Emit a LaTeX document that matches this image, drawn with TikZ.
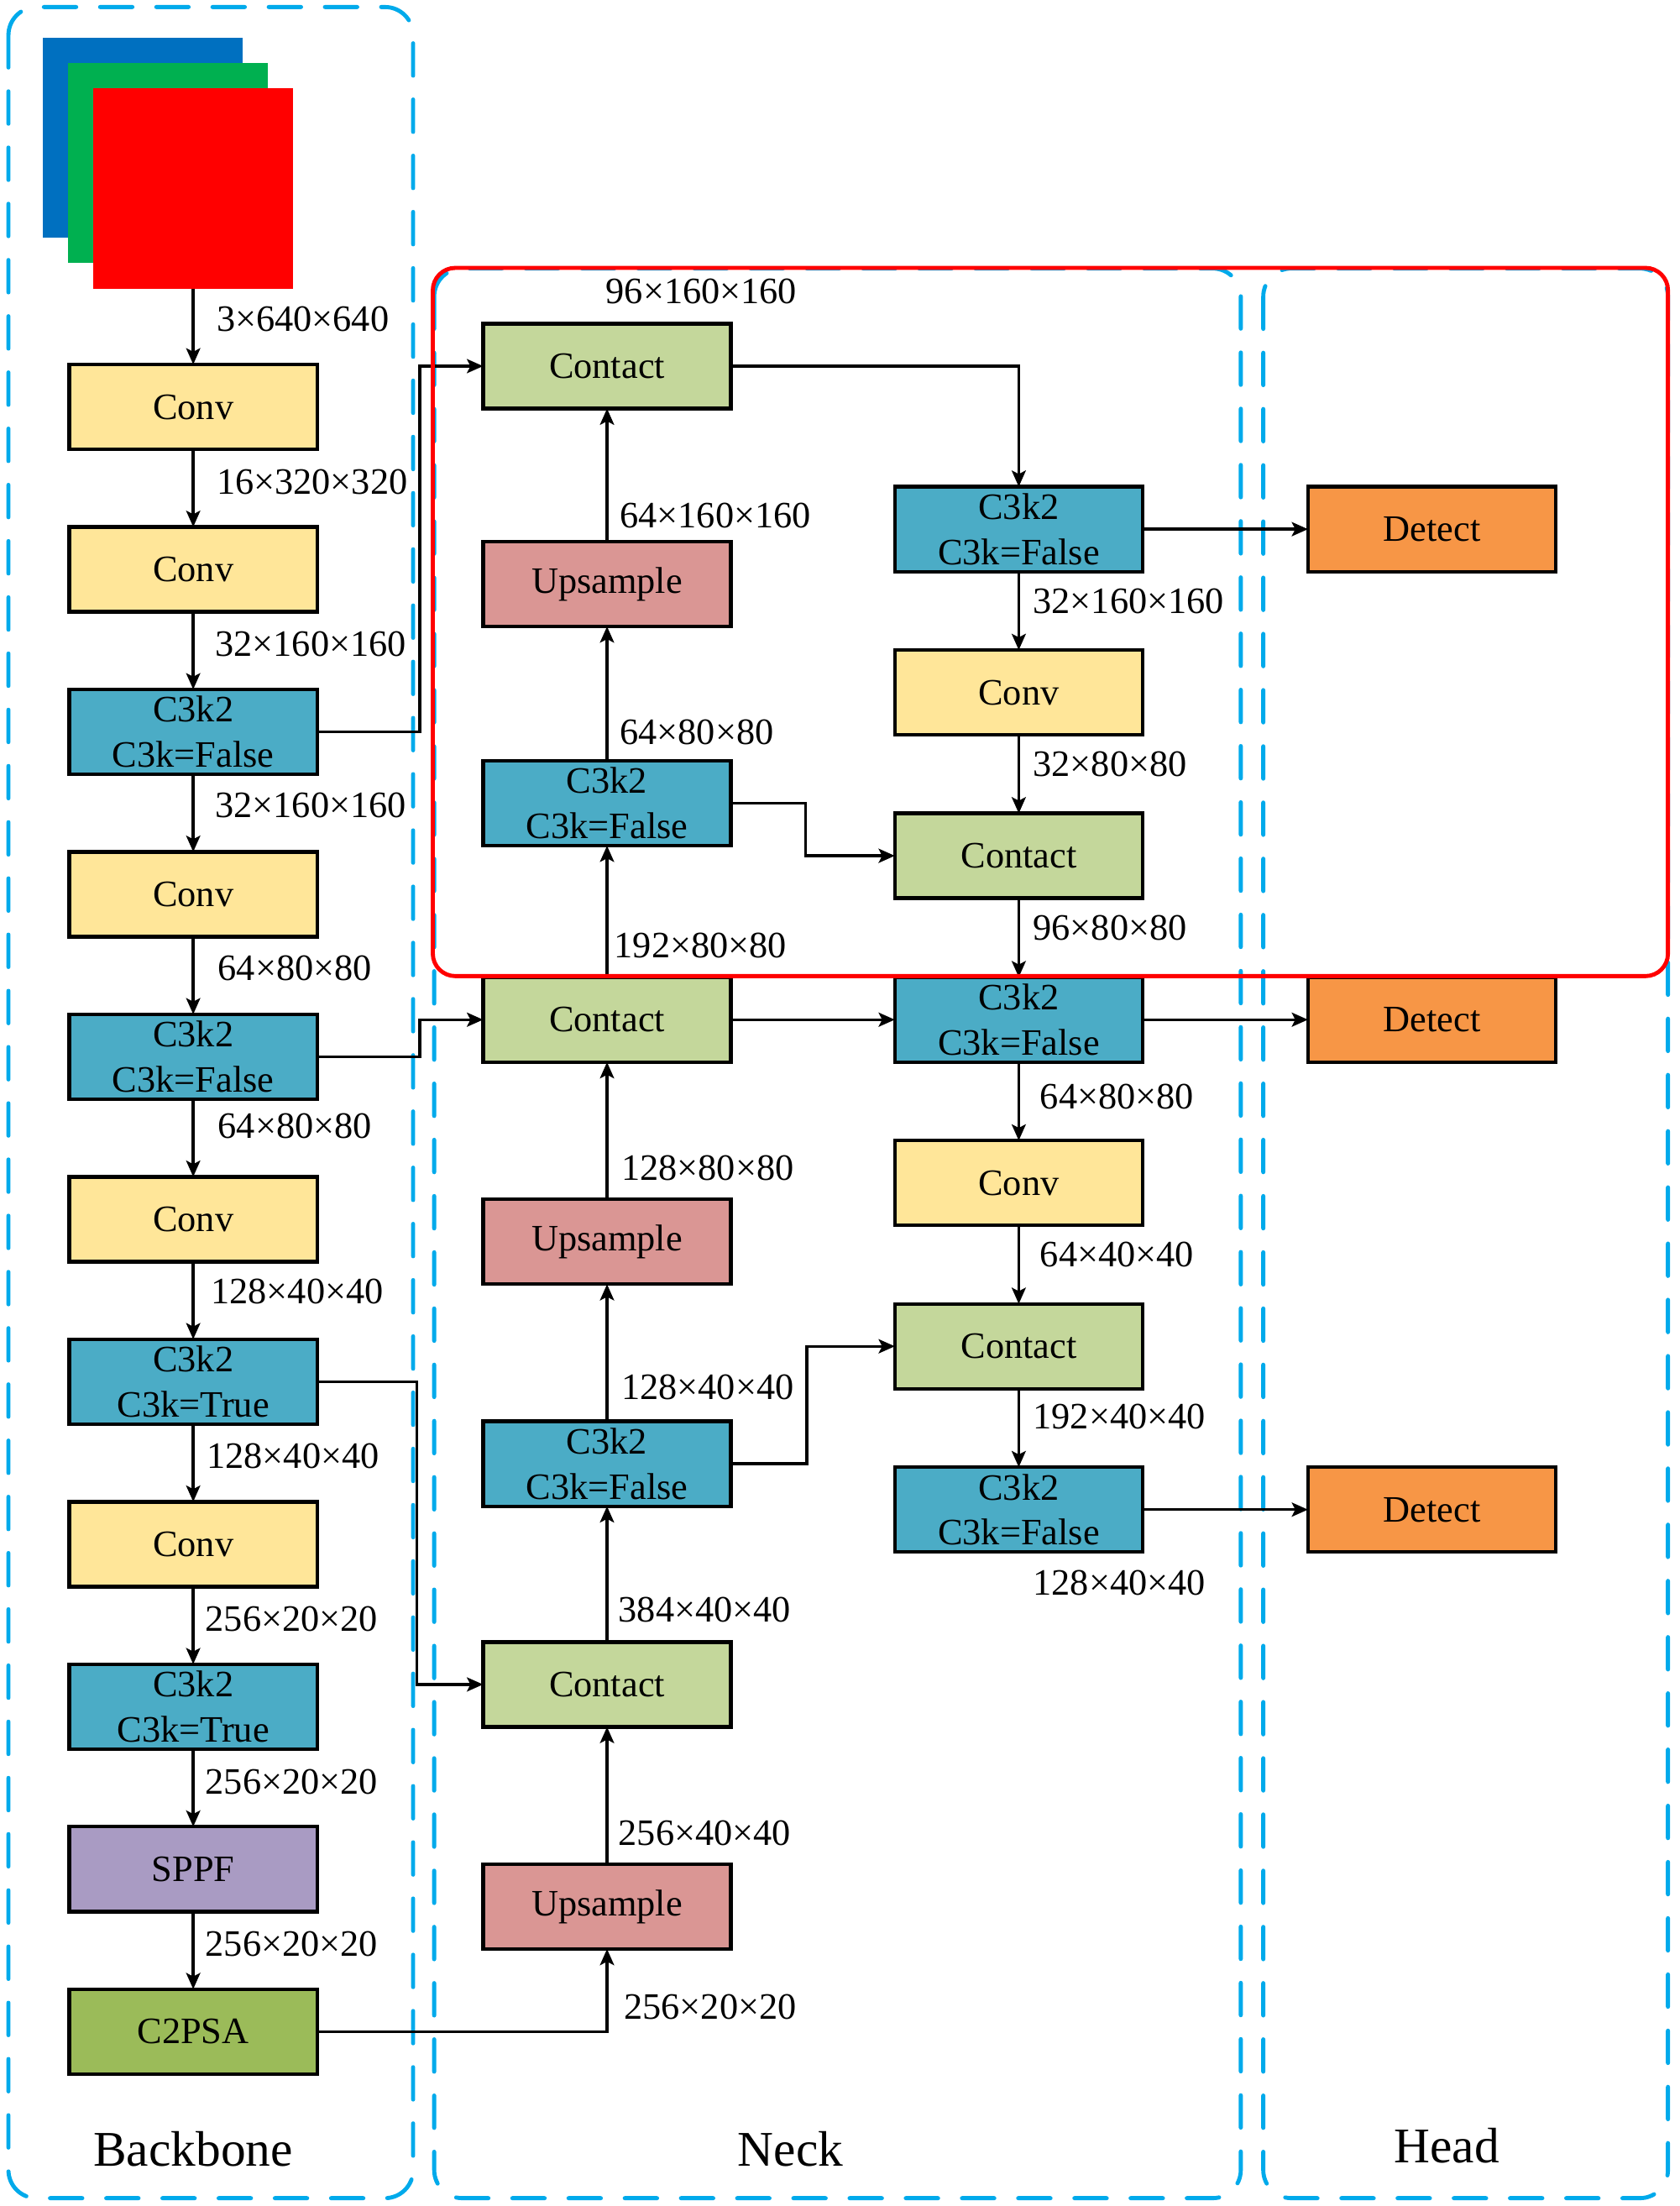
\documentclass[tikz,border=0pt]{standalone}
\usepackage{fontspec}
\setmainfont{Liberation Serif}
\usetikzlibrary{arrows.meta,positioning}
\definecolor{convc}{HTML}{FFE699}
\definecolor{c3kc}{HTML}{4BACC6}
\definecolor{catc}{HTML}{C4D79B}
\definecolor{upc}{HTML}{DA9694}
\definecolor{detc}{HTML}{F79646}
\definecolor{sppfc}{HTML}{A99BC3}
\definecolor{c2psac}{HTML}{9BBB59}
\definecolor{framec}{HTML}{00AAEB}
\definecolor{imgb}{HTML}{0070C0}
\definecolor{imgg}{HTML}{00B050}
\definecolor{imgr}{HTML}{FF0000}

\begin{document}
\begin{tikzpicture}[x=1pt,y=-1pt,node distance=55.2pt,
    blk/.style={draw,line width=2.6pt,minimum width=176.4pt,minimum height=60.4pt,
        inner sep=0pt,outer sep=0pt,align=center,font=\fontsize{26.5}{32}\selectfont},
    convbox/.style={blk,fill=convc},
    c3kbox/.style={blk,fill=c3kc},
    catbox/.style={blk,fill=catc},
    upbox/.style={blk,fill=upc},
    detbox/.style={blk,fill=detc},
    dimlabel/.style={anchor=west,inner sep=0pt,font=\fontsize{26.5}{32}\selectfont},
    title/.style={anchor=base,inner sep=0pt,font=\fontsize{35.5}{40}\selectfont},
    arr/.style={-{Stealth[length=11.5pt,width=10pt,inset=2.5pt]},line width=2pt},
    framebox/.style={draw=framec,line width=2.9pt,dash pattern=on 23pt off 17pt,
        line cap=round,rounded corners=20pt},
    sq/.style={minimum size=142.6pt,inner sep=0pt,outer sep=0pt}]
    \useasboundingbox (0,0) rectangle (1195,1569.6);

    % dashed parts
    \draw[framebox] (6,5) rectangle (294,1564);
    \draw[framebox] (309,191) rectangle (883,1564);
    \draw[framebox] (899,191) rectangle (1187,1564);

    % input image
    \node[sq,fill=imgb] (img1) at (101.5,98) {};
    \node[sq,fill=imgg] (img2) at (119.5,116) {};
    \node[sq,fill=imgr] (img3) at (137.5,134) {};

    % backbone
    \node[convbox] (conv1) at (137.5,289.5) {Conv};
    \node[convbox,below=of conv1] (conv2) {Conv};
    \node[c3kbox,below=of conv2] (c3k1) {C3k2\\C3k=False};
    \node[convbox,below=of c3k1] (conv3) {Conv};
    \node[c3kbox,below=of conv3] (c3k2) {C3k2\\C3k=False};
    \node[convbox,below=of c3k2] (conv4) {Conv};
    \node[c3kbox,below=of conv4] (c3k3) {C3k2\\C3k=True};
    \node[convbox,below=of c3k3] (conv5) {Conv};
    \node[c3kbox,below=of conv5] (c3k4) {C3k2\\C3k=True};
    \node[blk,fill=sppfc,below=of c3k4] (sppf) {SPPF};
    \node[blk,fill=c2psac,below=of sppf] (c2psa) {C2PSA};

    % neck, up path
    \node[catbox] (cat1) at (432,260.5) {Contact};
    \node[upbox] (up1) at (432,415.5) {Upsample};
    \node[c3kbox] (c3k5) at (432,571.5) {C3k2\\C3k=False};
    \node[catbox] (cat2) at (432,725.5) {Contact};
    \node[upbox] (up2) at (432,883.5) {Upsample};
    \node[c3kbox] (c3k6) at (432,1041.5) {C3k2\\C3k=False};
    \node[catbox] (cat3) at (432,1198.5) {Contact};
    \node[upbox] (up3) at (432,1356.5) {Upsample};

    % neck, down path
    \node[c3kbox] (c3k7) at (725,376.5) {C3k2\\C3k=False};
    \node[convbox,below=55.8pt of c3k7] (conv6) {Conv};
    \node[catbox,below=55.8pt of conv6] (cat4) {Contact};
    \node[c3kbox,right=116.6pt of cat2] (c3k8) {C3k2\\C3k=False};
    \node[convbox,below=55.8pt of c3k8] (conv7) {Conv};
    \node[catbox,below=55.8pt of conv7] (cat5) {Contact};
    \node[c3kbox,below=55.8pt of cat5] (c3k9) {C3k2\\C3k=False};

    % head
    \node[detbox,right=117.6pt of c3k7] (det1) {Detect};
    \node[detbox,right=117.6pt of c3k8] (det2) {Detect};
    \node[detbox,right=117.6pt of c3k9] (det3) {Detect};

    % connectors
    \draw[arr] (img3) -- (conv1);
    \draw[arr] (conv1) -- (conv2);
    \draw[arr] (conv2) -- (c3k1);
    \draw[arr] (c3k1) -- (conv3);
    \draw[arr] (conv3) -- (c3k2);
    \draw[arr] (c3k2) -- (conv4);
    \draw[arr] (conv4) -- (c3k3);
    \draw[arr] (c3k3) -- (conv5);
    \draw[arr] (conv5) -- (c3k4);
    \draw[arr] (c3k4) -- (sppf);
    \draw[arr] (sppf) -- (c2psa);
    \draw[arr] (c3k1.east) -- ++(73,0) |- (cat1.west);
    \draw[arr] (c3k2.east) -- ++(73,0) |- (cat2.west);
    \draw[arr] (c3k3.east) -- ++(71,0) |- (cat3.west);
    \draw[arr] (c2psa.east) -| (up3.south);
    \draw[arr] (up3) -- (cat3);
    \draw[arr] (cat3) -- (c3k6);
    \draw[arr] (c3k6) -- (up2);
    \draw[arr] (up2) -- (cat2);
    \draw[arr] (cat2) -- (c3k5);
    \draw[arr] (c3k5) -- (up1);
    \draw[arr] (up1) -- (cat1);
    \draw[arr] (cat1.east) -| (c3k7.north);
    \draw[arr] (c3k7) -- (conv6);
    \draw[arr] (conv6) -- (cat4);
    \draw[arr] (c3k5.east) -- ++(53,0) |- (cat4.west);
    \draw[arr] (cat4) -- (c3k8);
    \draw[arr] (cat2) -- (c3k8);
    \draw[arr] (c3k8) -- (conv7);
    \draw[arr] (conv7) -- (cat5);
    \draw[arr] (c3k6.east) -- ++(54,0) |- (cat5.west);
    \draw[arr] (cat5) -- (c3k9);
    \draw[arr] (c3k7) -- (det1);
    \draw[arr] (c3k8) -- (det2);
    \draw[arr] (c3k9) -- (det3);

    % sizes
    \node[dimlabel] (d1) at (154,227) {3×640×640};
    \node[dimlabel] (d2) at (154,343) {16×320×320};
    \node[dimlabel] (d3) at (153,458) {32×160×160};
    \node[dimlabel] (d4) at (153,573) {32×160×160};
    \node[dimlabel] (d5) at (155,689) {64×80×80};
    \node[dimlabel] (d6) at (155,801) {64×80×80};
    \node[dimlabel] (d7) at (150,919) {128×40×40};
    \node[dimlabel] (d8) at (147,1036) {128×40×40};
    \node[dimlabel] (d9) at (146,1152) {256×20×20};
    \node[dimlabel] (d10) at (146,1268) {256×20×20};
    \node[dimlabel] (d11) at (146,1383) {256×20×20};
    \node[dimlabel] (d12) at (431,207.5) {96×160×160};
    \node[dimlabel] (d13) at (441,367) {64×160×160};
    \node[dimlabel] (d14) at (441,521) {64×80×80};
    \node[dimlabel] (d15) at (437,673) {192×80×80};
    \node[dimlabel] (d16) at (442,831) {128×80×80};
    \node[dimlabel] (d17) at (442,987) {128×40×40};
    \node[dimlabel] (d18) at (440,1145.5) {384×40×40};
    \node[dimlabel] (d19) at (440,1304) {256×40×40};
    \node[dimlabel] (d20) at (444,1428) {256×20×20};
    \node[dimlabel] (d21) at (735,427.6) {32×160×160};
    \node[dimlabel] (d22) at (735,543.5) {32×80×80};
    \node[dimlabel] (d23) at (735,660) {96×80×80};
    \node[dimlabel] (d24) at (740,780) {64×80×80};
    \node[dimlabel] (d25) at (740,892.6) {64×40×40};
    \node[dimlabel] (d26) at (735,1007.7) {192×40×40};
    \node[dimlabel] (d27) at (735,1126) {128×40×40};

    \node[title] (tbb) at (137.5,1541) {Backbone};
    \node[title] (tneck) at (562.5,1541) {Neck};
    \node[title] (thead) at (1029.5,1539) {Head};

    % focus region
    \draw[red,line width=2.9pt,rounded corners=16pt] (308,190.6) rectangle (1187,694.5);
\end{tikzpicture}
\end{document}
